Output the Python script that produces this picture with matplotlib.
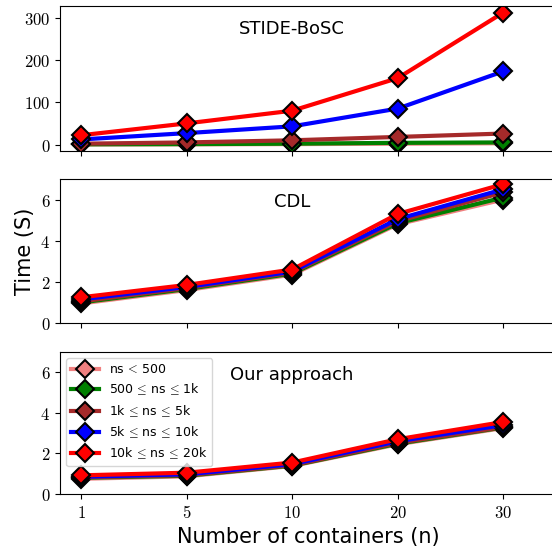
import numpy as np
import matplotlib
matplotlib.use("Agg")
import matplotlib.pyplot as plt
import matplotlib.transforms as mtransforms

plt.rcParams['mathtext.fontset'] = 'cm'

containers = ['1', '5', '10', '20', '30']
labels = [r'ns$\,<\,$500', r'500$\,\leq\,$ns$\,\leq\,$1k', r'1k$\,\leq\,$ns$\,\leq\,$5k',
          r'5k$\,\leq\,$ns$\,\leq\,$10k', r'10k$\,\leq\,$ns$\,\leq\,$20k']
colors = ['lightcoral', 'green', 'brown', 'blue', 'red']

stide = [[0.3, 0.5, 1.0, 2.0, 3.0],
         [0.5, 1.0, 2.0, 4.0, 5.0],
         [2.0, 5.0, 10.0, 18.0, 26.0],
         [12.0, 27.0, 43.0, 85.0, 173.0],
         [22.0, 50.0, 80.0, 157.0, 312.0]]
cdl = [[0.95, 1.60, 2.35, 4.80, 6.00],
       [1.00, 1.65, 2.40, 4.85, 6.10],
       [1.05, 1.70, 2.45, 4.95, 6.35],
       [1.15, 1.75, 2.50, 5.05, 6.50],
       [1.25, 1.85, 2.60, 5.30, 6.75]]
ours = [[0.75, 0.87, 1.38, 2.45, 3.25],
        [0.80, 0.90, 1.40, 2.48, 3.28],
        [0.82, 0.93, 1.42, 2.52, 3.30],
        [0.85, 0.97, 1.47, 2.60, 3.40],
        [0.92, 1.05, 1.55, 2.70, 3.55]]

panels = [('STIDE-BoSC', stide, [0, 100, 200, 300], None),
          ('CDL', cdl, [0, 2, 4, 6], (0, 7)),
          ('Our approach', ours, [0, 2, 4, 6], (0, 7))]

fig = plt.figure(figsize=(5.52, 5.55), dpi=100)
x = np.arange(len(containers))
axes = []
tops = [6, 179, 352]
bots = [151, 323, 494]
for i, (name, data, yt, yl) in enumerate(panels):
    b = 1 - bots[i] / 555
    h = (bots[i] - tops[i]) / 555
    ax = fig.add_axes([60 / 552, b, 496 / 552, h])
    axes.append(ax)
    for j in range(len(labels)):
        ax.plot(x, data[j], color=colors[j], lw=3, marker='D', ms=9,
                mec='black', mew=1.5, label=labels[j])
    ax.set_xlim(-0.2, 4.5)
    if yl:
        ax.set_ylim(*yl)
    ax.set_yticks(yt)
    ax.set_yticklabels(['$%d$' % v for v in yt], fontsize=12)
    ax.set_xticks(x)
    if i == 2:
        ax.set_xticklabels(['$%s$' % c for c in containers], fontsize=12)
    else:
        ax.set_xticklabels([])
    ax.spines['right'].set_visible(False)
    trans = mtransforms.blended_transform_factory(ax.transData, ax.transAxes)
    ax.text(2, 0.84, name, transform=trans, ha='center', va='center', fontsize=13)

axes[1].set_ylabel('Time (S)', fontsize=15)
axes[2].set_xlabel('Number of containers (n)', fontsize=15)
axes[2].legend(loc='upper left', fontsize=9, labelspacing=0.45,
               handlelength=2.2, borderaxespad=0.5)

fig.savefig('out.png', dpi=100)
